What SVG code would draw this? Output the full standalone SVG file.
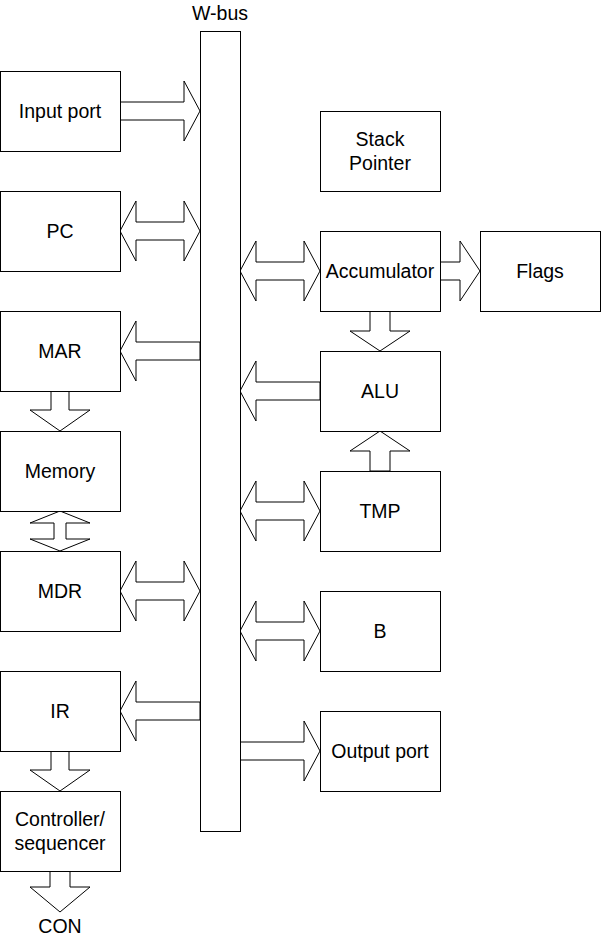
<svg xmlns="http://www.w3.org/2000/svg" width="602" height="937" viewBox="0 0 602 937">
<style>
.box{fill:#fff;stroke:#000;stroke-width:1}
.arr{fill:#fff;stroke:#000;stroke-width:1;stroke-linejoin:miter}
text{font-family:"Liberation Sans",Arial,sans-serif;font-size:19.5px;fill:#000;text-anchor:middle;dominant-baseline:central}
</style>
<rect width="602" height="937" fill="#fff"/>
<g id="connectors">
<path class="arr" d="M120,102 H184 V81 L200,111 L184,141 V120 H120 Z"/>
<path class="arr" d="M120,231 L136,201 V222 H184 V201 L200,231 L184,261 V240 H136 V261 Z"/>
<path class="arr" d="M200,342 H136 V321 L120,351 L136,381 V360 H200 Z"/>
<path class="arr" d="M51,391 V410 H30 L60,431 L90,410 H69 V391 Z"/>
<path class="arr" d="M60,511 L90,523 H66 V539 H90 L60,551 L30,539 H54 V523 H30 Z"/>
<path class="arr" d="M120,591 L136,561 V582 H184 V561 L200,591 L184,621 V600 H136 V621 Z"/>
<path class="arr" d="M200,702 H136 V681 L120,711 L136,741 V720 H200 Z"/>
<path class="arr" d="M51,751 V770 H30 L60,791 L90,770 H69 V751 Z"/>
<path class="arr" d="M50,871 V887 H30 L60,912 L90,887 H70 V871 Z"/>
<path class="arr" d="M240,271 L256,241 V262 H304 V241 L320,271 L304,301 V280 H256 V301 Z"/>
<path class="arr" d="M440,262 H460 V241 L480,271 L460,301 V280 H440 Z"/>
<path class="arr" d="M370,311 V331 H350 L380,351 L410,331 H390 V311 Z"/>
<path class="arr" d="M320,382 H256 V361 L240,391 L256,421 V400 H320 Z"/>
<path class="arr" d="M370,471 V451 H350 L380,431 L410,451 H390 V471 Z"/>
<path class="arr" d="M240,511 L256,481 V502 H304 V481 L320,511 L304,541 V520 H256 V541 Z"/>
<path class="arr" d="M240,631 L256,601 V622 H304 V601 L320,631 L304,661 V640 H256 V661 Z"/>
<path class="arr" d="M240,742 H304 V721 L320,751 L304,781 V760 H240 Z"/>
</g>
<g id="wbus"><rect class="box" x="200.5" y="31.5" width="40" height="800"/><text x="220" y="13">W-bus</text></g>
<g id="input-port"><rect class="box" x="0.5" y="71.5" width="120" height="80"/><text x="60" y="111">Input port</text></g>
<g id="pc"><rect class="box" x="0.5" y="191.5" width="120" height="80"/><text x="60" y="231">PC</text></g>
<g id="mar"><rect class="box" x="0.5" y="311.5" width="120" height="80"/><text x="60" y="351">MAR</text></g>
<g id="memory"><rect class="box" x="0.5" y="431.5" width="120" height="80"/><text x="60" y="471">Memory</text></g>
<g id="mdr"><rect class="box" x="0.5" y="551.5" width="120" height="80"/><text x="60" y="591">MDR</text></g>
<g id="ir"><rect class="box" x="0.5" y="671.5" width="120" height="80"/><text x="60" y="711">IR</text></g>
<g id="controller"><rect class="box" x="0.5" y="791.5" width="120" height="80"/><text x="60" y="819">Controller/</text><text x="60" y="843">sequencer</text></g>
<g id="con"><text x="60" y="926">CON</text></g>
<g id="stack-pointer"><rect class="box" x="320.5" y="111.5" width="120" height="80"/><text x="380" y="139">Stack</text><text x="380" y="163">Pointer</text></g>
<g id="accumulator"><rect class="box" x="320.5" y="231.5" width="120" height="80"/><text x="380" y="271">Accumulator</text></g>
<g id="flags"><rect class="box" x="480.5" y="231.5" width="120" height="80"/><text x="540" y="271">Flags</text></g>
<g id="alu"><rect class="box" x="320.5" y="351.5" width="120" height="80"/><text x="380" y="391">ALU</text></g>
<g id="tmp"><rect class="box" x="320.5" y="471.5" width="120" height="80"/><text x="380" y="511">TMP</text></g>
<g id="b"><rect class="box" x="320.5" y="591.5" width="120" height="80"/><text x="380" y="631">B</text></g>
<g id="output-port"><rect class="box" x="320.5" y="711.5" width="120" height="80"/><text x="380" y="751">Output port</text></g>
</svg>
